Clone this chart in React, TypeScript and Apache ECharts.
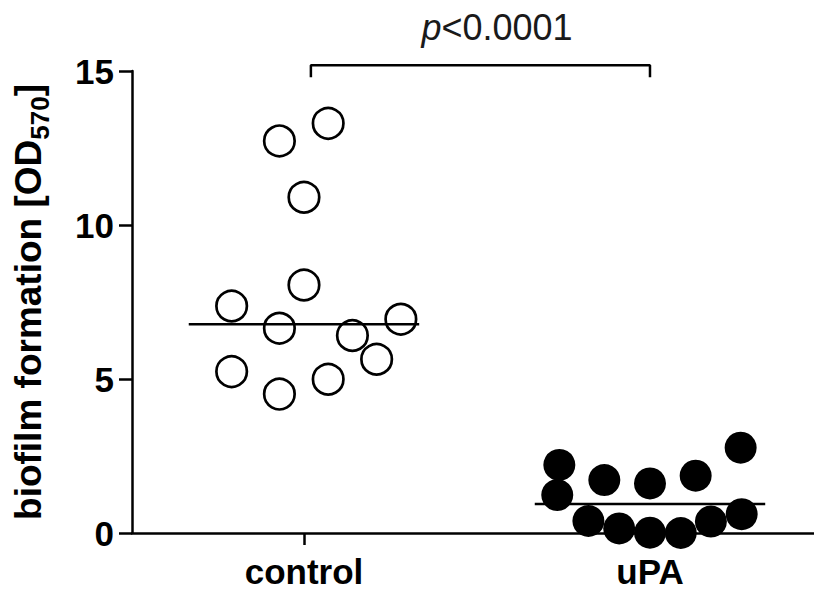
import React, { useEffect, useRef } from "react";
import * as echarts from "echarts";

const FONT = "'Liberation Sans', Arial, Helvetica, sans-serif";

const categories = ["control", "uPA"];

// jitter offsets (in category units) and values
const controlJitter = [0.07, -0.071, 0, 0, -0.209, -0.071, 0.28, 0.14, 0.21, -0.209, 0.07, -0.071];
const controlValues = [13.3, 12.73, 10.9, 8.05, 7.37, 6.65, 6.94, 6.41, 5.64, 5.24, 4.99, 4.51];

const upaJitter = [-0.262, -0.268, -0.132, 0, 0.132, 0.262, -0.178, -0.089, 0, 0.089, 0.176, 0.265];
const upaValues = [2.21, 1.23, 1.72, 1.61, 1.86, 2.77, 0.39, 0.15, 0.01, 0.0, 0.37, 0.61];

const medians = [6.78, 0.94];
const medianHalfWidth = 0.333;

const yTicks = { min: 0, max: 15, interval: 5 };

const bracketX = [0.02, 1];
const bracketY = [14.8, 15.19];
const pText = "<0.0001";

export default function App() {
  const ref = useRef<HTMLDivElement>(null);

  useEffect(() => {
    if (!ref.current) return;
    const chart = echarts.init(ref.current, null, { renderer: "svg" });

    const controlData = controlValues.map((v, i) => [0 + controlJitter[i], v]);
    const upaData = upaValues.map((v, i) => [1 + upaJitter[i], v]);

    const medianSeries = medians.map((m, i) => ({
      type: "line",
      data: [
        [i - medianHalfWidth, m],
        [i + medianHalfWidth, m],
      ],
      symbol: "none",
      lineStyle: { color: "#000", width: 2.5 },
      z: 5,
      silent: true,
    }));

    chart.setOption({
      animation: false,
      grid: {
        left: 132,
        right: 0,
        top: 71,
        bottom: 59,
        containLabel: false,
        outerBoundsMode: "none",
      },
      xAxis: {
        type: "value",
        min: -0.497,
        max: 1.474,
        splitLine: { show: false },
        axisLine: { show: true, onZero: false, lineStyle: { color: "#000", width: 2.5 } },
        axisTick: {
          show: true,
          customValues: [0, 1],
          length: 12,
          lineStyle: { color: "#000", width: 2.5 },
        },
        axisLabel: {
          customValues: [0, 1],
          formatter: (v: number) => categories[Math.round(v)] ?? "",
          fontSize: 35,
          fontWeight: "bold",
          fontFamily: FONT,
          color: "#000",
          margin: 21,
        },
      },
      yAxis: {
        type: "value",
        min: yTicks.min,
        max: yTicks.max,
        interval: yTicks.interval,
        splitLine: { show: false },
        axisLine: { show: true, onZero: false, lineStyle: { color: "#000", width: 2.5 } },
        axisTick: { show: true, length: 13, lineStyle: { color: "#000", width: 2.5 } },
        axisLabel: {
          fontSize: 35,
          fontWeight: "bold",
          fontFamily: FONT,
          color: "#000",
          margin: 18,
        },
        name: "{a|biofilm formation [OD}{s|570}{a|]}",
        nameLocation: "middle",
        nameRotate: 90,
        nameGap: 79,
        nameTextStyle: {
          rich: {
            a: { fontSize: 37, fontWeight: "bold", fontFamily: FONT, color: "#000", lineHeight: 50 },
            s: {
              fontSize: 26,
              fontWeight: "bold",
              fontFamily: FONT,
              color: "#000",
              lineHeight: 30,
              verticalAlign: "bottom",
            },
          },
        },
      },
      graphic: [
        {
          type: "text",
          x: 497,
          y: 27,
          style: {
            text: "{i|p}{n|" + pText + "}",
            align: "center",
            verticalAlign: "middle",
            rich: {
              i: { fontSize: 36, fontStyle: "italic", fontFamily: FONT, fill: "#1a1a1a" },
              n: { fontSize: 36, fontFamily: FONT, fill: "#1a1a1a" },
            },
          },
        },
      ],
      series: [
        {
          type: "scatter",
          data: controlData,
          symbol: "circle",
          symbolSize: 30.5,
          itemStyle: { color: "rgba(255,255,255,0)", borderColor: "#000", borderWidth: 2.7, opacity: 1 },
          z: 3,
        },
        {
          type: "scatter",
          data: upaData,
          symbol: "circle",
          symbolSize: 32,
          itemStyle: { color: "#000", opacity: 1 },
          z: 3,
        },
        ...medianSeries,
        {
          type: "line",
          data: [
            [bracketX[0], bracketY[0]],
            [bracketX[0], bracketY[1]],
            [bracketX[1], bracketY[1]],
            [bracketX[1], bracketY[0]],
          ],
          symbol: "none",
          clip: false,
          lineStyle: { color: "#000", width: 2.5 },
          silent: true,
        },
      ],
    });

    return () => chart.dispose();
  }, []);

  return (
    <div
      ref={ref}
      style={{ position: "fixed", left: 0, top: 0, width: 814, height: 592, background: "#fff" }}
    />
  );
}
